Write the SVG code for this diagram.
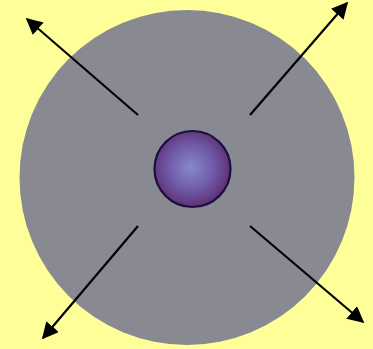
<svg xmlns="http://www.w3.org/2000/svg" width="373" height="349" viewBox="0 0 373 349">
<defs>
<radialGradient id="sph" cx="0.48" cy="0.48" r="0.55">
<stop offset="0" stop-color="#8888cc"/>
<stop offset="0.55" stop-color="#6f5aa8"/>
<stop offset="1" stop-color="#5e2a6e"/>
</radialGradient>
<marker id="ah" viewBox="0 0 10 10" refX="9" refY="5" markerWidth="7.5" markerHeight="7.5" orient="auto" markerUnits="strokeWidth">
<path d="M0,0 L10,5 L0,10 z" fill="#000"/>
</marker>
<style>
.arr{stroke:#000;stroke-width:2.2;fill:none;marker-end:url(#ah)}
</style>
</defs>
<rect width="373" height="349" fill="#ffff99"/>
<g id="disk"><circle cx="187" cy="177.5" r="167.5" fill="#898992"/></g>
<g id="sphere"><circle cx="192.5" cy="169" r="38" fill="url(#sph)" stroke="#1a1040" stroke-width="2.2"/></g>
<g id="connectors">
<line class="arr" x1="138" y1="115" x2="27" y2="19"/>
<line class="arr" x1="250" y1="115" x2="347" y2="3"/>
<line class="arr" x1="138" y1="226" x2="43" y2="338"/>
<line class="arr" x1="250" y1="226" x2="363" y2="322"/>
</g>
</svg>
